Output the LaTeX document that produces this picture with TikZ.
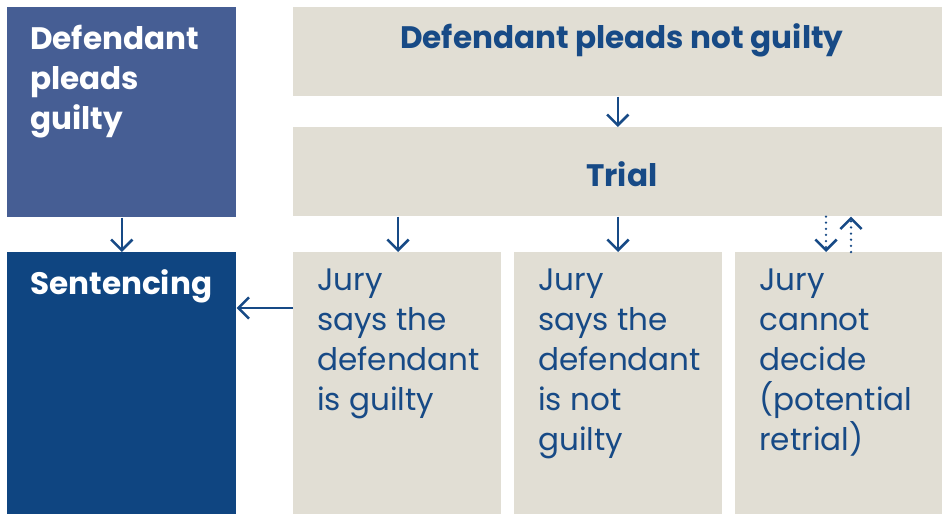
\documentclass[tikz,border=0pt]{standalone}
\usepackage{fontspec}
\setmainfont{Poppins}
\usetikzlibrary{arrows.meta}

\definecolor{paleblue}{HTML}{465E94}
\definecolor{deepblue}{HTML}{0F4581}
\definecolor{sand}{HTML}{E1DED4}
\definecolor{inkblue}{HTML}{174A86}

\tikzset{
    box/.style={rectangle, inner sep=0pt, anchor=north west, minimum height=196.5pt},
    sandbox/.style={box, fill=sand},
    headtext/.style={font=\bfseries\fontsize{23.3}{30}\selectfont, text=inkblue, inner sep=0pt},
    sidetext/.style={font=\bfseries\fontsize{23.3}{30}\selectfont, text=white, inner sep=0pt, anchor=north west, align=left},
    jurytext/.style={font=\fontsize{23.3}{30}\selectfont, text=inkblue, inner sep=0pt, anchor=north west, align=left},
    arr/.style={draw=inkblue, line width=1.9pt, -{Straight Barb[length=8pt, width=16pt, line width=1.9pt]}},
    arrdot/.style={arr, dash pattern=on 0pt off 4.6pt, line cap=round}
}

\begin{document}
\begin{tikzpicture}[x=0.75pt, y=-0.75pt]
    \useasboundingbox (0,0) rectangle (945,514);

    % left column
    \node[box, fill=paleblue, minimum width=171.75pt, minimum height=157.5pt] (plguilty) at (7,7) {};
    \node[box, fill=deepblue, minimum width=171.75pt] (sent) at (7,252) {};
    \node[sidetext] at ([shift={(23,18)}]plguilty.north west) {Defendant\\pleads\\guilty};
    \node[sidetext] at ([shift={(23,17)}]sent.north west) {Sentencing};

    % top row
    \node[sandbox, minimum width=486.75pt, minimum height=66.75pt] (plnot) at (293,7) {};
    \node[sandbox, minimum width=486.75pt, minimum height=66.75pt] (trial) at (293,127) {};
    \node[headtext, anchor=base] at ([shift={(4,41)}]plnot.north) {Defendant pleads not guilty};
    \node[headtext, anchor=base] at ([shift={(4,59)}]trial.north) {Trial};

    % verdicts
    \node[sandbox, minimum width=156pt] (jg) at (293,252) {};
    \node[sandbox, minimum width=156pt] (jn) at (514,252) {};
    \node[sandbox, minimum width=155.25pt] (jc) at (735,252) {};
    \node[jurytext] at ([shift={(24,17)}]jg.north west) {Jury\\says the\\defendant\\is guilty};
    \node[jurytext] at ([shift={(24,17)}]jn.north west) {Jury\\says the\\defendant\\is not\\guilty};
    \node[jurytext] at ([shift={(24,17)}]jc.north west) {Jury\\cannot\\decide\\(potential\\retrial)};

    % connectors
    \draw[arr] (plnot.south) -- (trial.north);
    \draw[arr] (plguilty.south) -- (sent.north);
    \draw[arr] (trial.south -| 398,0) -- (jg.north -| 398,0);
    \draw[arr] (trial.south -| 618,0) -- (jn.north -| 618,0);
    \draw[arrdot] (trial.south -| 826,0) -- (jc.north -| 826,0);
    \draw[arrdot] (jc.north -| 851,0) -- (trial.south -| 851,0);
    \coordinate (guiltymid) at ([shift={(0,56)}]jg.north west);
    \draw[arr] (guiltymid) -- (guiltymid -| sent.east);
\end{tikzpicture}
\end{document}
